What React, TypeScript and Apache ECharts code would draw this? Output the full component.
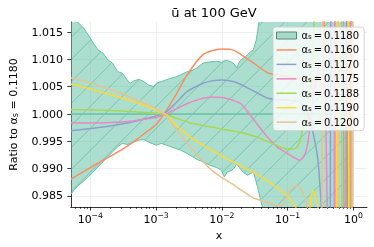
import React, { useEffect, useRef } from 'react';
import * as echarts from 'echarts';

const TITLE = 'ū at 100 GeV';
const REF_ALPHA = '0.1180';
const X_MIN = 5.07e-5;
const X_MAX = 1.61;
const Y_MIN = 0.98296;
const Y_MAX = 1.01686;
const X_TICKS = [1e-4, 1e-3, 1e-2, 1e-1, 1];
const X_MINOR = [
  6e-5, 7e-5, 8e-5, 9e-5,
  2e-4, 3e-4, 4e-4, 5e-4, 6e-4, 7e-4, 8e-4, 9e-4,
  2e-3, 3e-3, 4e-3, 5e-3, 6e-3, 7e-3, 8e-3, 9e-3,
  2e-2, 3e-2, 4e-2, 5e-2, 6e-2, 7e-2, 8e-2, 9e-2,
  0.2, 0.3, 0.4, 0.5, 0.6, 0.7, 0.8, 0.9,
];
const Y_TICKS = [0.985, 0.99, 0.995, 1.0, 1.005, 1.01, 1.015];

// uncertainty band of alpha_s = 0.1180
const BAND_X = [
  5.07e-5, 5.8e-5, 6.65e-5, 7.9e-5, 9.3e-5, 1.11e-4, 1.31e-4, 1.56e-4, 1.84e-4, 2.19e-4,
  2.59e-4, 3.07e-4, 3.64e-4, 4.03e-4, 4.62e-4, 5.47e-4, 6.48e-4, 7.68e-4, 9.11e-4, 1.01e-3,
  1.2e-3, 1.42e-3, 1.68e-3, 1.99e-3, 2.36e-3, 2.99e-3, 3.67e-3, 4.2e-3, 5.16e-3, 6.54e-3,
  8.29e-3, 9.83e-3, 0.0109, 0.0121, 0.0138, 0.0153, 0.0169, 0.01875, 0.0215, 0.0246,
  0.0273, 0.0302, 0.0334, 0.0358, 0.0383, 0.041, 0.0454, 0.165, 1.0,
];
const BAND_UPPER = [
  1.0182, 1.01746, 1.01667, 1.01575, 1.01452, 1.0130, 1.01176, 1.01116, 1.00993, 1.00932,
  1.00778, 1.00748, 1.00625, 1.00564, 1.00607, 1.00638, 1.00594, 1.00533, 1.00502, 1.00564,
  1.00594, 1.00625, 1.00656, 1.0068, 1.00717, 1.00778, 1.00809, 1.00846, 1.00932, 1.00956,
  1.00965, 1.0095, 1.00974, 1.0098, 1.00956, 1.00919, 1.0084, 1.00974, 1.01029, 1.01085,
  1.0114, 1.01176, 1.0136, 1.01599, 1.0182, 1.02004, 1.025, 1.05, 1.05,
];
const BAND_LOWER = [
  0.98529, 0.98621, 0.98695, 0.98768, 0.98847, 0.98939, 0.99031, 0.99123, 0.99215, 0.99307,
  0.99399, 0.99461, 0.99443, 0.99458, 0.99485, 0.99522, 0.99531, 0.99485, 0.99449, 0.9943,
  0.99461, 0.9943, 0.99399, 0.99369, 0.99338, 0.99274, 0.9921, 0.99167, 0.99123, 0.99063,
  0.9902, 0.98971, 0.98847, 0.98939, 0.98961, 0.99007, 0.99081, 0.99007, 0.98925, 0.98879,
  0.98906, 0.98939, 0.9875, 0.98603, 0.98456, 0.98309, 0.975, 0.95, 0.95,
];

// shared x grid of the smooth part of the curves
const GRID_X = [
  5.07e-5, 1e-4, 2e-4, 3e-4, 5e-4, 7e-4, 1e-3, 1.4e-3, 2e-3, 3e-3,
  5e-3, 7e-3, 1e-2, 1.5e-2, 2e-2, 3e-2, 5e-2, 7e-2,
];
const A1160 = [0.98805, 0.99017, 0.99224, 0.99347, 0.99528, 0.99662, 0.99809, 1.00046, 1.00349, 1.00726, 1.01075, 1.01158, 1.01191, 1.01171, 1.01081, 1.00938, 1.00754, 1.00717];
const A1160_TAIL = [[0.1, 1.00689], [0.13, 1.00665], [0.15, 1.00653], [0.2, 1.0064], [0.3, 1.0063], [0.335, 1.0068], [0.355, 1.012], [0.373, 1.03], [0.507, 1.03], [0.533, 0.97], [0.762, 0.97], [0.788, 1.03], [0.903, 1.03], [0.934, 0.97], [1.0, 0.97]];
const A1170 = [0.99693, 0.99733, 0.99779, 0.99816, 0.99871, 0.99917, 0.99963, 1.00031, 1.00202, 1.00414, 1.00555, 1.00607, 1.00625, 1.00597, 1.00537, 1.00423, 1.00289, 1.00267];
const A1170_TAIL = [[0.1, 1.00257], [0.13, 1.00245], [0.15, 1.00239], [0.1767, 1.00129], [0.2167, 0.9989], [0.2568, 0.99522], [0.2892, 0.99154], [0.3096, 0.98695], [0.3258, 0.9829], [0.3371, 0.975], [0.4422, 0.97], [0.4575, 1.03], [0.788, 1.03], [0.8155, 0.97], [1.0, 0.97]];
const A1175 = [0.9984, 0.99835, 0.99844, 0.99853, 0.99881, 0.99908, 0.99936, 1.0, 1.00092, 1.00193, 1.00285, 1.00307, 1.00303, 1.00248, 1.00175, 0.99908, 0.99568, 0.99393];
const A1175_TAIL = [[0.1, 0.99274], [0.13, 0.99191], [0.15, 0.99154], [0.18, 0.99246], [0.2, 0.9943], [0.22, 0.99798], [0.25, 1.00349], [0.28, 1.00717], [0.3043, 1.00864], [0.3258, 1.00901], [0.3485, 1.00772], [0.3733, 1.00257], [0.3995, 0.9829], [0.4133, 0.97], [0.507, 0.97], [0.5242, 1.03], [0.6998, 1.03], [0.7243, 0.97], [0.8728, 0.97], [0.903, 1.03], [1.0, 1.03]];
const A1188 = [1.00083, 1.00074, 1.00064, 1.00055, 1.0004, 1.00028, 1.00013, 0.99985, 0.99926, 0.99853, 0.99792, 0.99761, 0.99724, 0.99688, 0.9966, 0.99596, 0.99494, 0.99421];
const A1188_TAIL = [[0.1, 0.99357], [0.13, 0.99366], [0.15, 0.99467], [0.1679, 0.99706], [0.1859, 0.99926], [0.2024, 1.00165], [0.2242, 1.00625], [0.2399, 1.01085], [0.2525, 1.01691], [0.2612, 1.0228], [0.27, 1.03], [0.654, 1.03], [0.6765, 0.97], [0.9185, 0.97], [0.9503, 1.03], [1.0, 1.03]];
const A1190 = [1.00551, 1.0046, 1.00358, 1.00294, 1.00211, 1.00147, 1.00074, 0.99996, 0.99798, 0.99614, 0.99439, 0.99338, 0.99228, 0.99118, 0.99044, 0.98934, 0.9877, 0.9864];
const A1190_TAIL = [[0.1, 0.98484], [0.13, 0.98309], [0.15, 0.9814], [0.2024, 0.975], [0.2242, 0.98456], [0.2441, 0.98603], [0.2657, 0.98474], [0.2892, 0.9829], [0.3043, 0.975], [0.5516, 0.97], [0.5706, 1.03], [0.8294, 1.03], [0.8583, 0.97], [1.0, 0.97]];
const A1200 = [1.00665, 1.0057, 1.0045, 1.00377, 1.00267, 1.00184, 1.00092, 0.99982, 0.99724, 0.99458, 0.99145, 0.98971, 0.98833, 0.98704, 0.986, 0.98465, 0.9838, 0.98327];
const A1200_TAIL = [[0.0836, 0.98336], [0.1, 0.98511], [0.115, 0.9864], [0.139, 0.98686], [0.157, 0.9864], [0.175, 0.98511], [0.1956, 0.98327], [0.2094, 0.98143], [0.23, 0.975], [0.3314, 0.97], [0.3428, 1.03], [0.5904, 1.03], [0.6109, 0.97], [0.9503, 0.97], [0.9831, 1.03], [1.0, 1.03]];

const LINES = [
  { name: '0.1160', color: '#fc8d62', values: A1160, tail: A1160_TAIL },
  { name: '0.1170', color: '#8da0cb', values: A1170, tail: A1170_TAIL },
  { name: '0.1175', color: '#e78ac3', values: A1175, tail: A1175_TAIL },
  { name: '0.1188', color: '#a6d854', values: A1188, tail: A1188_TAIL },
  { name: '0.1190', color: '#ffd92f', values: A1190, tail: A1190_TAIL },
  { name: '0.1200', color: '#e5c494', values: A1200, tail: A1200_TAIL },
];

const FONT = 'DejaVu Sans';
const BAND_COLOR = '#66c2a5';
const BAND_FILL = 'rgba(102,194,165,0.55)';
const HATCH_COLOR = 'rgba(60,160,128,0.55)';
const LINE_ICON = 'path://M0,0h40v3h-40z';
const lg = (x: number) => Math.log10(x);

export default function App() {
  const ref = useRef<HTMLDivElement>(null);
  useEffect(() => {
    if (!ref.current) return;
    const chart = echarts.init(ref.current, undefined, { renderer: 'svg' });
    const lineSeries = LINES.map((l) => ({
      type: 'line',
      name: l.name,
      data: [
        ...GRID_X.map((x, i) => [lg(x), l.values[i]]),
        ...l.tail.map(([x, y]) => [lg(x), y]),
      ],
      showSymbol: false,
      symbol: 'none',
      smooth: 0.3,
      lineStyle: { color: l.color, width: 1.5 },
      itemStyle: { color: l.color },
      z: 3,
    }));
    const richSub = {
      a: { fontFamily: FONT, fontSize: 10, color: '#000', lineHeight: 13, verticalAlign: 'middle' },
      s: { fontFamily: FONT, fontSize: 7, color: '#000', lineHeight: 13, verticalAlign: 'bottom', padding: [0, 0, 1.5, 0] },
    };
    chart.setOption({
      animation: false,
      grid: { left: 62, right: 7, top: 22, bottom: 40, containLabel: false },
      graphic: [
        {
          type: 'text', x: 214, y: 12,
          style: { text: TITLE, fontFamily: FONT, fontSize: 13, fill: '#000', align: 'center', verticalAlign: 'middle' },
        },
      ],
      xAxis: [
        {
          type: 'value', min: lg(X_MIN), max: lg(X_MAX), position: 'bottom',
          name: 'x', nameLocation: 'middle', nameGap: 18,
          nameTextStyle: { fontFamily: FONT, fontSize: 11, color: '#000' },
          axisLine: { show: true, onZero: false, lineStyle: { color: '#000', width: 0.8 } },
          axisTick: { show: true, customValues: X_TICKS.map(lg), length: 3.5, lineStyle: { color: '#000', width: 0.8 } },
          axisLabel: {
            customValues: X_TICKS.map(lg), margin: 4,
            formatter: (v: number) => {
              const e = Math.round(v);
              return `{b|10}{e|${e < 0 ? '−' + Math.abs(e) : e}}`;
            },
            rich: {
              b: { fontFamily: FONT, fontSize: 11, color: '#000', lineHeight: 14, verticalAlign: 'bottom' },
              e: { fontFamily: FONT, fontSize: 7.7, color: '#000', lineHeight: 14, verticalAlign: 'top' },
            },
          },
          splitLine: { show: true, lineStyle: { color: '#ebebeb', width: 0.8 } },
        },
        {
          type: 'value', min: lg(X_MIN), max: lg(X_MAX), position: 'bottom',
          axisLine: { show: false },
          axisTick: { show: true, customValues: X_MINOR.map(lg), length: 2, lineStyle: { color: '#000', width: 0.6 } },
          axisLabel: { show: false },
          splitLine: { show: false },
        },
      ],
      yAxis: {
        type: 'value', min: Y_MIN, max: Y_MAX,
        name: `{a|Ratio to α}{s|s}{a| = ${REF_ALPHA}}`, nameLocation: 'middle', nameGap: 46, nameRotate: 90,
        nameTextStyle: {
          rich: {
            a: { fontFamily: FONT, fontSize: 11, color: '#000', lineHeight: 14, verticalAlign: 'middle' },
            s: { fontFamily: FONT, fontSize: 8, color: '#000', lineHeight: 14, verticalAlign: 'bottom', padding: [0, 0, 1, 0] },
          },
        },
        axisLine: { show: true, onZero: false, lineStyle: { color: '#000', width: 0.8 } },
        axisTick: { show: true, customValues: Y_TICKS, length: 3.5, lineStyle: { color: '#000', width: 0.8 } },
        axisLabel: {
          customValues: Y_TICKS, margin: 8, fontFamily: FONT, fontSize: 11, color: '#000',
          formatter: (v: number) => v.toFixed(3),
        },
        splitLine: { show: true, lineStyle: { color: '#ebebeb', width: 0.8 } },
      },
      legend: {
        orient: 'vertical', left: 273, top: 27,
        padding: [2, 5, 2, 3], itemGap: 1.44, itemWidth: 20, itemHeight: 7,
        backgroundColor: 'rgba(255,255,255,0.8)', borderColor: '#cccccc', borderWidth: 0.8, borderRadius: 3,
        formatter: (name: string) => `{a|α}{s|s}{a|\u2009=\u2009${name}}`,
        textStyle: { rich: richSub, lineHeight: 13 },
        data: [
          { name: REF_ALPHA, icon: 'rect', itemStyle: { color: BAND_FILL, borderColor: '#5f8575', borderWidth: 1 } },
          ...LINES.map((l) => ({ name: l.name, icon: LINE_ICON, itemStyle: { color: l.color } })),
        ],
      },
      series: [
        {
          type: 'custom', name: REF_ALPHA,
          data: [[lg(X_MIN), 1]],
          itemStyle: { color: BAND_FILL },
          z: 1,
          renderItem: (params: any, api: any) => {
            const cs = params.coordSys;
            const up = BAND_X.map((x, i) => api.coord([lg(x), BAND_UPPER[i]]));
            const lo = BAND_X.map((x, i) => api.coord([lg(x), BAND_LOWER[i]]));
            const poly = [...up, ...lo.slice().reverse()];
            const hatch: any[] = [];
            const step = 22;
            const bottom = cs.y + cs.height;
            for (let x0 = cs.x + 6.7 - Math.ceil((cs.height + 10) / step) * step; x0 < cs.x + cs.width; x0 += step) {
              hatch.push({
                type: 'line',
                shape: { x1: x0, y1: bottom, x2: x0 + cs.height, y2: cs.y },
                style: { stroke: HATCH_COLOR, lineWidth: 0.8 },
              });
            }
            return {
              type: 'group',
              clipPath: { type: 'rect', shape: { x: cs.x, y: cs.y, width: cs.width, height: cs.height } },
              children: [
                { type: 'polygon', shape: { points: poly }, style: { fill: BAND_FILL } },
                { type: 'group', clipPath: { type: 'polygon', shape: { points: poly } }, children: hatch },
                { type: 'polyline', shape: { points: up }, style: { stroke: BAND_COLOR, lineWidth: 1, fill: null } },
                { type: 'polyline', shape: { points: lo }, style: { stroke: BAND_COLOR, lineWidth: 1, fill: null } },
              ],
            };
          },
        },
        {
          type: 'line', name: '_center',
          data: [[lg(X_MIN), 1.0], [lg(1.0), 1.0]],
          showSymbol: false, symbol: 'none',
          lineStyle: { color: BAND_COLOR, width: 1.5 },
          itemStyle: { color: BAND_COLOR },
          z: 2,
        },
        ...lineSeries,
      ],
    });
    return () => chart.dispose();
  }, []);
  return <div ref={ref} style={{ position: 'fixed', left: 0, top: 0, width: 374, height: 247 }} />;
}
